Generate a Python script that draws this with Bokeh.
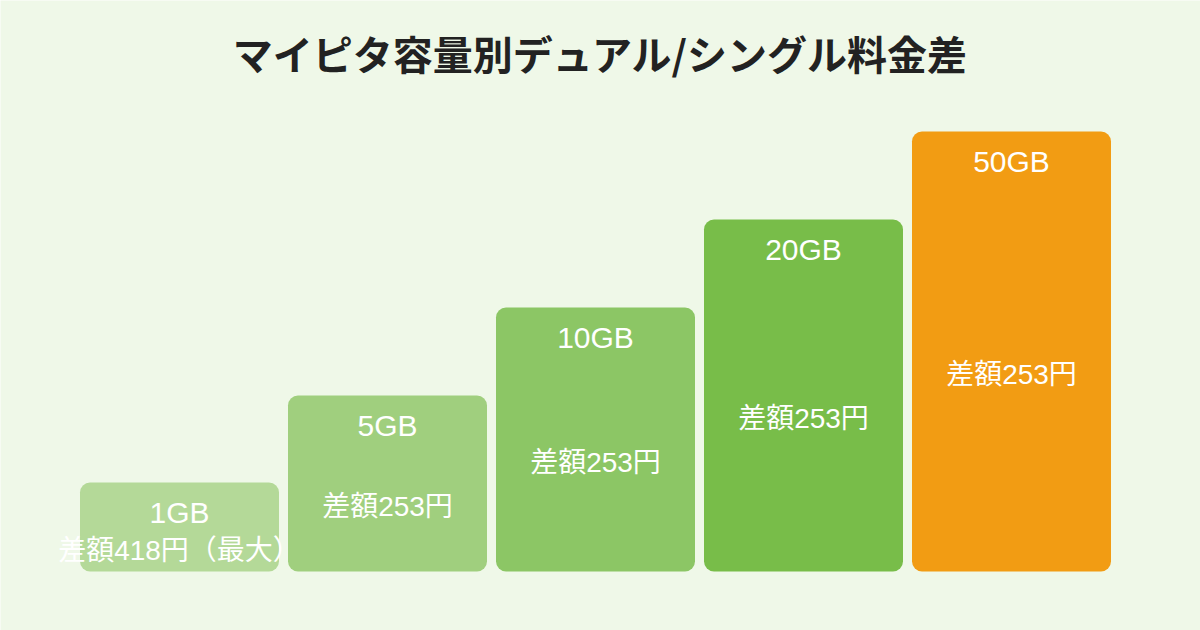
from bokeh.plotting import figure
from bokeh.models import ColumnDataSource, Range1d, Label
from bokeh.core.properties import value
from bokeh.embed import file_html
from bokeh.resources import INLINE

# ---- data ----
plans = ["1GB", "5GB", "10GB", "20GB", "50GB"]
levels = [1.01, 2, 3, 4, 5]          # visual step height of each bar
diff_labels = ["差額418円（最大）", "差額253円", "差額253円", "差額253円", "差額253円"]
colors = ["#B4D998", "#A0CF7E", "#8CC665", "#78BD49", "#F29C13"]
title_text = "マイピタ容量別デュアル/シングル料金差"

BG = "#EFF8E8"
FONT = "Liberation Sans, Noto Sans CJK JP"
TFONT = "Noto Sans CJK JP"
W, H = 1200, 630
PX = 88.0       # pixels per level unit (vertical)
PITCH = 208.0   # pixels per bar slot (horizontal)

x = list(range(len(plans)))
plan_y = [lv - 30 / PX for lv in levels]
diff_y = [lv / 2 - 23 / PX for lv in levels]

src = ColumnDataSource(dict(x=x, top=levels, color=colors, plan=plans,
                            plan_y=plan_y, diff=diff_labels, diff_y=diff_y))

x0 = -179 / PITCH
y0 = -59 / PX
p = figure(width=W, height=H, output_backend="svg", toolbar_location=None,
           x_range=Range1d(x0, x0 + W / PITCH), y_range=Range1d(y0, y0 + H / PX),
           min_border=0, min_border_left=0, min_border_right=0,
           min_border_top=0, min_border_bottom=0)
p.background_fill_color = BG
p.border_fill_color = BG
p.outline_line_color = None
p.axis.visible = False
p.grid.visible = False

p.vbar(x="x", top="top", bottom=0, width=199 / PITCH, color="color", source=src,
       line_color=None, border_radius=10)

p.text(x="x", y="plan_y", text="plan", source=src, text_color="white",
       text_font=value(FONT), text_font_size="30px", text_align="center",
       text_baseline="middle")
p.text(x="x", y="diff_y", text="diff", source=src, text_color="white",
       text_font=value(FONT), text_font_size="28px", text_align="center",
       text_baseline="middle")

p.add_layout(Label(x=W / 2, y=H - 52, x_units="screen", y_units="screen",
                   text=title_text, text_font=TFONT, text_font_size="40px",
                   text_font_style="bold", text_color="#222222",
                   text_align="center", text_baseline="middle"))

html = file_html(p, INLINE)
html = html.replace("<body>", '<body style="background:%s">' % BG, 1)
open("out.html", "w").write(html)
